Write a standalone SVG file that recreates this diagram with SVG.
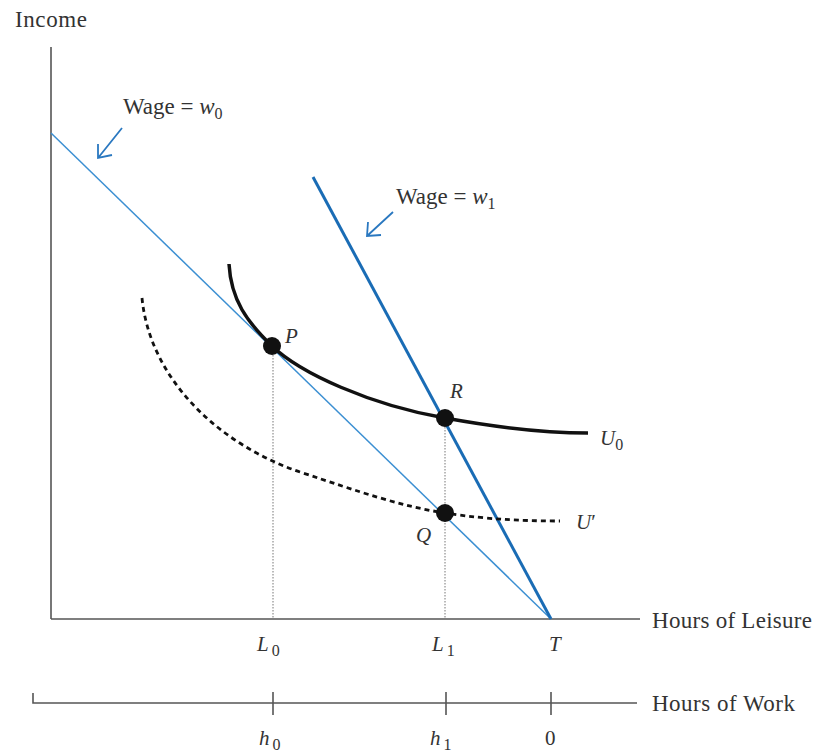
<svg xmlns="http://www.w3.org/2000/svg" width="823" height="752" viewBox="0 0 823 752">
<style>
text{font-family:"Liberation Serif","Times New Roman",serif;font-size:23px;fill:#333}
.i{font-style:italic}
.pt{font-size:21px}
.sub{font-size:16px}
.ax{stroke:#555;stroke-width:1.6;fill:none}
.dot{fill:#111}
.guide{stroke:#777;stroke-width:1;stroke-dasharray:1.5,1.5;fill:none}
.arr{stroke:#2a78c0;stroke-width:1.8;fill:none}
</style>
<rect width="823" height="752" fill="#fff"/>
<g id="axes">
<line class="ax" x1="51" y1="47" x2="51" y2="619"/>
<line class="ax" x1="51" y1="619" x2="640" y2="619"/>
<polyline class="ax" points="33,693 33,703 637,703"/>
<line class="ax" x1="273" y1="692" x2="273" y2="715"/>
<line class="ax" x1="446" y1="692" x2="446" y2="715"/>
<line class="ax" x1="551" y1="692" x2="551" y2="715"/>
<text x="15" y="27" textLength="72">Income</text>
<text x="652" y="628" textLength="160">Hours of Leisure</text>
<text x="652" y="711" textLength="143">Hours of Work</text>
</g>
<g id="connectors">
<line class="guide" x1="273" y1="346" x2="273" y2="619"/>
<line class="guide" x1="445" y1="418" x2="445" y2="619"/>
<line x1="51" y1="133" x2="551" y2="619" stroke="#3b8fd2" stroke-width="1.5"/>
<line x1="313" y1="177" x2="551" y2="619" stroke="#1a6cb5" stroke-width="3"/>
<path d="M229,264 C231,300 247,322 272,346 C300,373 370,405 445,418 C500,428 545,433 588,433" fill="none" stroke="#111" stroke-width="3.5"/>
<path d="M142,298 C150,380 220,445 300,472 C360,492 400,506 445,513 C490,520 530,521 560,521" fill="none" stroke="#111" stroke-width="2.8" stroke-dasharray="5,4"/>
<path class="arr" d="M122,128 L98,158 M98,144 L98,158 L112,155"/>
<path class="arr" d="M393,212 L367,236 M368,222 L367,236 L381,235"/>
</g>
<g id="P"><circle class="dot" cx="272" cy="346" r="9"/><text class="i pt" x="285" y="343">P</text></g>
<g id="R"><circle class="dot" cx="445" cy="418" r="9"/><text class="i pt" x="450" y="398">R</text></g>
<g id="Q"><circle class="dot" cx="445" cy="513" r="9"/><text class="i pt" x="416" y="542">Q</text></g>
<g id="labels">
<text x="123" y="114">Wage = <tspan class="i">w</tspan><tspan class="sub" dy="5">0</tspan></text>
<text x="396" y="204">Wage = <tspan class="i">w</tspan><tspan class="sub" dy="5">1</tspan></text>
<text class="pt" x="600" y="445"><tspan class="i">U</tspan><tspan class="sub" dy="5">0</tspan></text>
<text class="pt" x="576" y="529"><tspan class="i">U</tspan>′</text>
<text class="pt" x="257" y="651"><tspan class="i">L</tspan><tspan class="sub" dx="3" dy="5">0</tspan></text>
<text class="pt" x="432" y="651"><tspan class="i">L</tspan><tspan class="sub" dx="3" dy="5">1</tspan></text>
<text class="i pt" x="549" y="651">T</text>
<text class="pt" x="259" y="745"><tspan class="i">h</tspan><tspan class="sub" dx="3" dy="5">0</tspan></text>
<text class="pt" x="430" y="745"><tspan class="i">h</tspan><tspan class="sub" dx="3" dy="5">1</tspan></text>
<text class="pt" x="545" y="745">0</text>
</g>
</svg>
